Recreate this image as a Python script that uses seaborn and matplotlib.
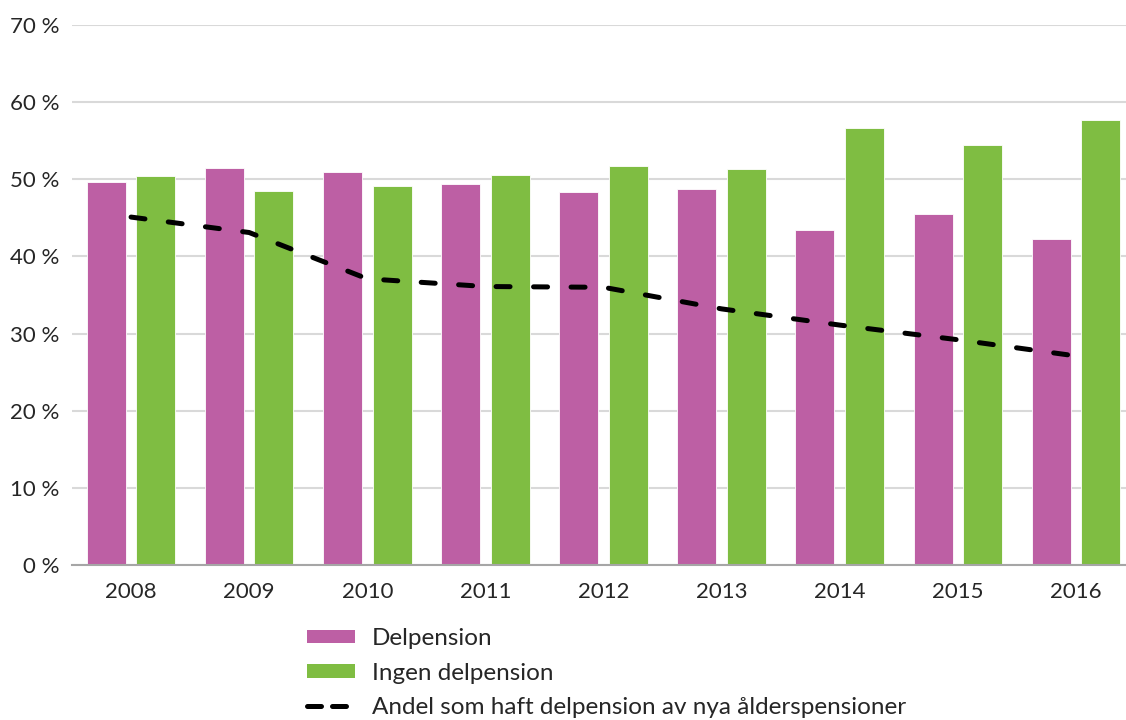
import numpy as np
import pandas as pd
import matplotlib
matplotlib.use("Agg")
import matplotlib.pyplot as plt
from matplotlib.patches import Patch
from matplotlib.lines import Line2D
import seaborn as sns

years = ["2008", "2009", "2010", "2011", "2012", "2013", "2014", "2015", "2016"]
delpension = [49.6, 51.5, 50.9, 49.4, 48.3, 48.7, 43.4, 45.5, 42.3]
ingen_delpension = [50.4, 48.5, 49.1, 50.6, 51.7, 51.3, 56.6, 54.5, 57.7]
andel_haft_delpension = [45.1, 43.1, 37.1, 36.1, 36.0, 33.2, 31.1, 29.2, 27.1]

LABELS = ["Delpension", "Ingen delpension", "Andel som haft delpension av nya ålderspensioner"]
PINK = "#bd5fa4"
GREEN = "#7fbd42"

sns.set_style("white")
plt.rcParams["font.family"] = ["Lato", "DejaVu Sans"]

df = pd.DataFrame({
    "year": years * 2,
    "share": delpension + ingen_delpension,
    "group": [LABELS[0]] * len(years) + [LABELS[1]] * len(years),
})

fig = plt.figure(figsize=(11.26, 7.2), dpi=100)
ax = fig.add_axes([72 / 1126, 1 - 565 / 720, 1063 / 1126, 540 / 720])

sns.barplot(
    data=df, x="year", y="share", hue="group",
    palette=[PINK, GREEN], saturation=1, width=0.84, gap=0.214,
    edgecolor="white", linewidth=0.6, legend=False, ax=ax, zorder=2,
)
sns.lineplot(
    x=np.arange(len(years)), y=andel_haft_delpension, ax=ax,
    color="black", linewidth=3.6, dashes=False, zorder=3,
)
line = ax.lines[-1]
line.set_linestyle((0, (2.8, 4.7)))
line.set_dash_capstyle("round")

ax.set_xlim(-0.5, len(years) - 0.5)
ax.set_ylim(0, 70)
ax.set_yticks(range(0, 71, 10))
ax.set_yticklabels([f"{v} %" for v in range(0, 71, 10)], fontsize=16)
ax.set_xticks(range(len(years)))
ax.set_xticklabels(years, fontsize=16)
ax.set_xticks(np.arange(-0.5, len(years), 1), minor=True)
ax.tick_params(axis="x", which="major", length=0, pad=12)
ax.tick_params(axis="x", which="minor", length=6, width=1.2, color="#a6a6a6", direction="out")
ax.tick_params(axis="y", length=0, pad=9)
ax.set_xlabel("")
ax.set_ylabel("")

ax.yaxis.grid(True, color="#d9d9d9", linewidth=1.5, zorder=0)
ax.set_axisbelow(True)
for side in ["top", "right", "left"]:
    ax.spines[side].set_visible(False)
ax.spines["bottom"].set_color("#a6a6a6")
ax.spines["bottom"].set_linewidth(1.5)
ax.spines["bottom"].set_zorder(4)

handles = [
    Patch(facecolor=PINK, edgecolor="none"),
    Patch(facecolor=GREEN, edgecolor="none"),
    Line2D([0], [0], color="black", linewidth=3.6, linestyle=(0, (2.8, 2.2)),
           dash_capstyle="round"),
]
fig.legend(
    handles, LABELS, loc="upper left", bbox_to_anchor=(295 / 1126, 1 - 616 / 720),
    frameon=False, fontsize=17.5, handlelength=1.95, handleheight=0.5,
    handletextpad=0.7, labelspacing=0.55, borderpad=0,
)

fig.savefig("out.png", dpi=100)
